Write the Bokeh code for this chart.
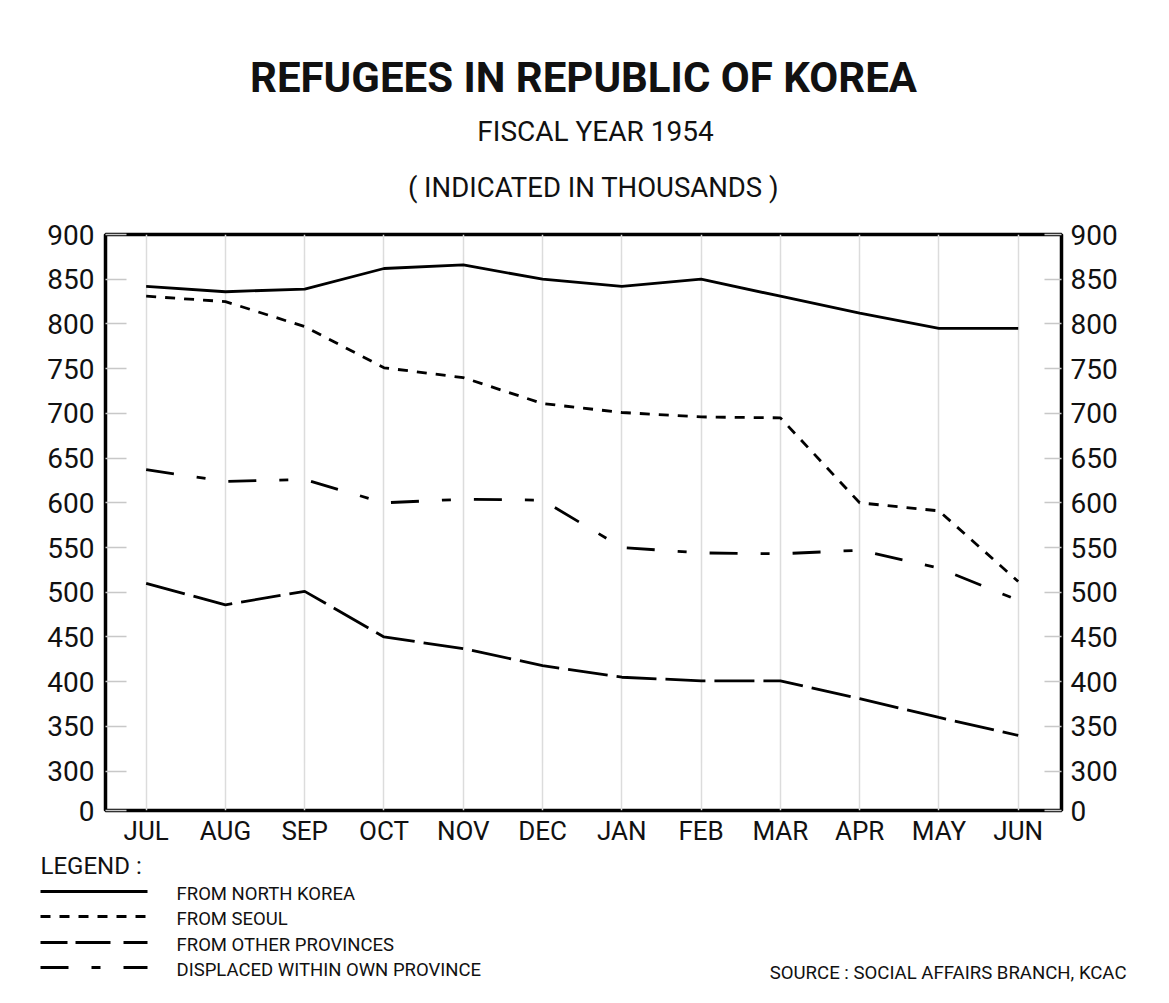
from bokeh.plotting import figure
from bokeh.models import Range1d, FixedTicker, LinearAxis, ColumnDataSource
from bokeh.layouts import column
from bokeh.core.properties import value
from bokeh.embed import file_html
from bokeh.resources import INLINE

# ---------------- data (thousands) ----------------
months = ["JUL", "AUG", "SEP", "OCT", "NOV", "DEC", "JAN", "FEB", "MAR", "APR", "MAY", "JUN"]
from_north_korea = [842, 836, 839, 862, 866, 850, 842, 850, 831, 812, 795, 795]
from_seoul = [831, 825, 797, 751, 740, 711, 701, 696, 695, 600, 591, 512]
displaced_within_province = [637, 624, 626, 600, 604, 603, 550, 544, 543, 547, 527, 491]
from_other_provinces = [510, 486, 501, 450, 437, 418, 405, 401, 401, 381, 360, 340]
y_ticks = [256, 300, 350, 400, 450, 500, 550, 600, 650, 700, 750, 800, 850, 900]
y_tick_labels = ["0", "300", "350", "400", "450", "500", "550", "600", "650", "700", "750", "800", "850", "900"]

FONT = "Roboto"
W = 1161
INK = "#111111"

# ---------------- title figure ----------------
TH = 212
t = figure(width=W, height=TH, x_range=Range1d(0, W), y_range=Range1d(TH, 0),
           output_backend="svg", toolbar_location=None, min_border=0, frame_align=False)
t.axis.visible = False
t.grid.visible = False
t.outline_line_color = None
t.text(x=[583], y=[77], text=["REFUGEES IN REPUBLIC OF KOREA"], text_font=value(FONT),
       text_font_size="42px", text_font_style="bold", text_align="center",
       text_baseline="middle", text_color=INK)
t.text(x=[595], y=[131], text=["FISCAL YEAR 1954"], text_font=value(FONT),
       text_font_size="28px", text_align="center", text_baseline="middle", text_color=INK)
t.text(x=[593], y=[187], text=["( INDICATED IN THOUSANDS )"], text_font=value(FONT),
       text_font_size="27.5px", text_align="center", text_baseline="middle", text_color=INK)

# ---------------- main chart ----------------
x = list(range(len(months)))
src = ColumnDataSource(dict(x=x, nk=from_north_korea, seoul=from_seoul,
                            disp=displaced_within_province, other=from_other_provinces))

p = figure(frame_width=956, frame_height=576,
           x_range=Range1d(-0.513, 11.546), y_range=Range1d(256, 900),
           output_backend="svg", toolbar_location=None, y_axis_location=None,
           min_border_left=105, min_border_right=100, min_border_top=22, min_border_bottom=36,
           frame_align=False)
p.outline_line_color = "black"
p.outline_line_width = 3.5
p.background_fill_color = "white"
p.border_fill_color = "white"

p.xaxis.ticker = FixedTicker(ticks=x)
p.xaxis.major_label_overrides = {i: m for i, m in enumerate(months)}
p.xaxis.axis_line_color = None
p.xaxis.major_tick_line_color = None
p.xaxis.minor_tick_line_color = None
p.xaxis.major_tick_in = 0
p.xaxis.major_tick_out = 0
p.xaxis.major_label_standoff = 5
p.xaxis.major_label_text_font = FONT
p.xaxis.major_label_text_font_size = "26px"
p.xaxis.major_label_text_color = INK

p.xgrid.ticker = FixedTicker(ticks=x)
p.xgrid.grid_line_color = "#dcdcdc"
p.xgrid.grid_line_width = 1.5
p.ygrid.visible = False

overrides = {tk: lb for tk, lb in zip(y_ticks, y_tick_labels)}
for side, tin, standoff in (("left", 21, 11), ("right", 17, 9)):
    ax = LinearAxis(ticker=FixedTicker(ticks=y_ticks))
    ax.major_label_overrides = overrides
    ax.axis_line_color = None
    ax.major_tick_in = tin
    ax.major_tick_out = 0
    ax.major_tick_line_color = "#c8c8c8"
    ax.major_tick_line_width = 1.5
    ax.minor_tick_line_color = None
    ax.major_label_standoff = standoff
    ax.major_label_text_font = FONT
    ax.major_label_text_font_size = "28px"
    ax.major_label_text_color = INK
    p.add_layout(ax, side)

LW = 2.8
styles = [("nk", "solid"), ("seoul", "10 9"), ("other", "40 9"), ("disp", "28 23 9 23")]
for col, dash in styles:
    p.line("x", col, source=src, line_color="black", line_width=LW, line_dash=dash)

# ---------------- legend figure ----------------
legend_labels = ["FROM NORTH KOREA", "FROM SEOUL", "FROM OTHER PROVINCES", "DISPLACED WITHIN OWN PROVINCE"]
legend_dashes = ["solid", "10 9", "27 8 35 13", "28 23 9 23"]
LH = 140
lg = figure(width=W, height=LH, x_range=Range1d(0, W), y_range=Range1d(LH, 0),
            output_backend="svg", toolbar_location=None, min_border=0, frame_align=False)
lg.axis.visible = False
lg.grid.visible = False
lg.outline_line_color = None
lg.text(x=[40], y=[17], text=["LEGEND :"], text_font=value(FONT), text_font_size="24px",
        text_align="left", text_baseline="middle", text_color=INK)
rows = [43, 68, 94, 119]
for yy, lab, dash in zip(rows, legend_labels, legend_dashes):
    lg.line(x=[40, 147], y=[yy, yy], line_color="black", line_width=LW, line_dash=dash)
    lg.text(x=[176], y=[yy + 2], text=[lab], text_font=value(FONT), text_font_size="18.5px",
            text_align="left", text_baseline="middle", text_color=INK)
lg.text(x=[1126], y=[124], text=["SOURCE : SOCIAL AFFAIRS BRANCH, KCAC"], text_font=value(FONT),
        text_font_size="18.6px", text_align="right", text_baseline="middle", text_color=INK)

layout = column(t, p, lg, spacing=0)
open("out.html", "w").write(file_html(layout, INLINE))
